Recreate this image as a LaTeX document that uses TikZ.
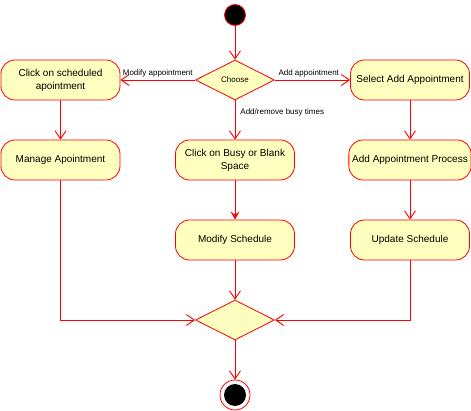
\documentclass[tikz,border=0pt]{standalone}
\usepackage{fontspec}
\setmainfont{Liberation Sans}
\usetikzlibrary{arrows.meta,shapes.geometric}

\definecolor{actfill}{HTML}{FFFFC0}

\tikzset{
  action/.style={draw=red,fill=actfill,rounded corners=14pt,minimum width=119pt,minimum height=40pt,
    align=center,font=\fontsize{10}{13}\selectfont,line width=0.8pt},
  choice/.style={draw=red,fill=actfill,diamond,aspect=2,minimum width=79pt,minimum height=40pt,
    inner sep=0pt,font=\fontsize{8}{10}\selectfont,line width=0.8pt},
  flow/.style={draw=red,line width=0.9pt,-{Straight Barb[length=8pt,width=11pt]}},
  elabel/.style={font=\fontsize{8}{10}\selectfont,inner sep=2pt}
}

\begin{document}
\begin{tikzpicture}[x=1pt,y=-1pt]
\useasboundingbox (0,0) rectangle (471,411);

\node[circle,fill=black,draw=red,line width=0.8pt,minimum size=21pt,inner sep=0pt] (start) at (235,15) {};
\node[choice] (choose) at (235,80) {Choose};

\node[action] (clicksched) at (60.5,80) {Click on scheduled\\apointment};
\node[action] (manage) at (60.5,160) {Manage Apointment};
\node[action] (clickbusy) at (235,160) {Click on Busy or Blank\\Space};
\node[action] (modify) at (235,240) {Modify Schedule};
\node[action] (selectadd) at (410,80) {Select Add Appointment};
\node[action] (addproc) at (410,160) {Add Appointment Process};
\node[action] (update) at (410,240) {Update Schedule};

\node[choice] (merge) at (235,320) {};

\node[circle,draw=red,fill=white,line width=0.8pt,minimum size=30pt,inner sep=0pt] (stop) at (235,395) {};
\node[circle,fill=black,minimum size=22pt,inner sep=0pt] (stopdot) at (235,395) {};

\draw[flow] (start) -- (choose);
\draw[flow] (choose) -- node[elabel,above] {Modify appointment} (clicksched);
\draw[flow] (choose) -- node[elabel,above,pos=0.45] {Add appointment} (selectadd);
\draw[flow] (choose) -- node[elabel,right,pos=0.3,xshift=3pt] {Add/remove busy times} (clickbusy);

\draw[flow] (clicksched) -- (manage);
\draw[draw=red,line width=0.9pt,-{Stealth[length=8pt,width=9pt,inset=3pt]}] (clickbusy) -- (modify);
\draw[flow] (selectadd) -- (addproc);
\draw[flow] (addproc) -- (update);

\draw[flow] (manage) |- (merge.west);
\draw[flow] (modify) -- (merge);
\draw[flow] (update) |- (merge.east);
\draw[flow] (merge) -- (stop);
\end{tikzpicture}
\end{document}
